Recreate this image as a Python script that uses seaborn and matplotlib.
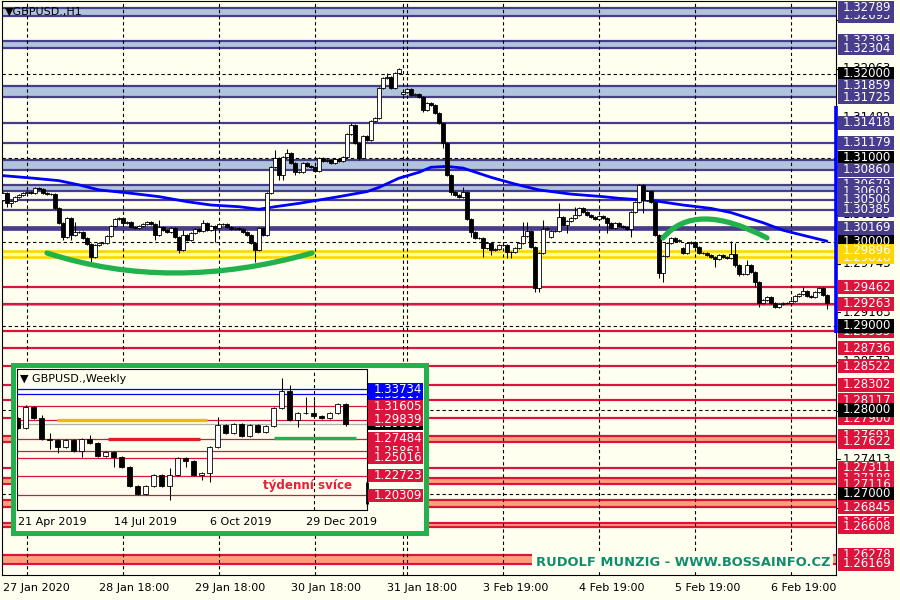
import numpy as np
import pandas as pd
import matplotlib
matplotlib.use("Agg")
import matplotlib.pyplot as plt
import seaborn as sns
from matplotlib.patches import Rectangle, PathPatch
from matplotlib.path import Path
from matplotlib import font_manager

# ---------------- data: GBPUSD H1 ----------------
H1_FIRST_OPEN = 1.3050
H1_CLOSE = [
    1.3058, 1.3046, 1.3049, 1.3054, 1.3056, 1.3058, 1.3060, 1.3058, 1.3064, 1.3063,
    1.3058, 1.3057, 1.3057, 1.3040, 1.3023, 1.3006, 1.3029, 1.3008, 1.3012, 1.3012,
    1.3005, 1.2998, 1.2982, 1.2996, 1.2999, 1.2999, 1.3007, 1.3019, 1.3027, 1.3029,
    1.3023, 1.3024, 1.3018, 1.3017, 1.3019, 1.3021, 1.3024, 1.3021, 1.3008, 1.3018,
    1.3014, 1.3012, 1.3017, 1.3006, 1.2990, 1.3008, 1.3002, 1.3011, 1.3015, 1.3013,
    1.3023, 1.3014, 1.3019, 1.3017, 1.3021, 1.3021, 1.3018, 1.3015, 1.3017, 1.3015,
    1.3012, 1.3008, 1.2999, 1.2990, 1.3017, 1.3008, 1.3058, 1.3089, 1.3100, 1.3080,
    1.3101, 1.3106, 1.3094, 1.3083, 1.3083, 1.3094, 1.3090, 1.3089, 1.3085, 1.3100,
    1.3096, 1.3098, 1.3094, 1.3099, 1.3096, 1.3101, 1.3129, 1.3139, 1.3118, 1.3100,
    1.3126, 1.3121, 1.3144, 1.3148, 1.3183, 1.3195, 1.3196, 1.3183, 1.3201, 1.3206,
    1.3179, 1.3182, 1.3175, 1.3176, 1.3173, 1.3157, 1.3165, 1.3163, 1.3154, 1.3142,
    1.3118, 1.3080, 1.3060, 1.3056, 1.3054, 1.3060, 1.3027, 1.3012, 1.3005, 1.3005,
    1.2993, 1.2999, 1.2990, 1.2992, 1.2996, 1.2996, 1.2988, 1.2988, 1.2993, 1.2999,
    1.3007, 1.3013, 1.2994, 1.2945, 1.2987, 1.3015, 1.3017, 1.3013, 1.3013, 1.3030,
    1.3020, 1.3025, 1.3029, 1.3032, 1.3040, 1.3036, 1.3032, 1.3030, 1.3027, 1.3031,
    1.3029, 1.3023, 1.3017, 1.3023, 1.3019, 1.3018, 1.3015, 1.3036, 1.3048, 1.3068,
    1.3050, 1.3061, 1.3048, 1.3008, 1.2963, 1.2983, 1.2999, 1.3005, 1.3001, 1.3002,
    1.2987, 1.2999, 1.3000, 1.2994, 1.2987, 1.2987, 1.2985, 1.2982, 1.2980, 1.2985,
    1.2982, 1.2981, 1.2986, 1.2973, 1.2962, 1.2962, 1.2973, 1.2964, 1.2952, 1.2927,
    1.2931, 1.2935, 1.2927, 1.2923, 1.2926, 1.2927, 1.2927, 1.2930, 1.2936, 1.2938,
    1.2942, 1.2936, 1.2935, 1.2940, 1.2945, 1.2937, 1.2927,
]
H1_OPEN_GAPS = {100: 1.3176, 137: 1.3006, 170: 1.2993}
H1_HIGH = {0: 1.3060, 16: 1.3030, 18: 1.3024, 29: 1.3030, 39: 1.3026, 45: 1.3014,
           50: 1.3026, 68: 1.3110, 71: 1.3111, 87: 1.3142, 96: 1.3201, 99: 1.3207,
           115: 1.3065, 130: 1.3024, 131: 1.3024, 135: 1.3026, 139: 1.3046,
           143: 1.3042, 159: 1.3069, 182: 1.3001, 183: 1.2999, 186: 1.2979,
           200: 1.2946, 204: 1.2946}
H1_LOW = {1: 1.3042, 2: 1.3042, 15: 1.3002, 17: 1.3002, 22: 1.2975, 38: 1.3002,
          44: 1.2987, 53: 1.3000, 63: 1.2976, 69: 1.3074, 70: 1.3074, 73: 1.3080,
          89: 1.3098, 105: 1.3155, 110: 1.3112, 112: 1.3056, 117: 1.3006,
          120: 1.2982, 122: 1.2985, 126: 1.2981, 127: 1.2981, 133: 1.2940,
          134: 1.2940, 141: 1.3011, 151: 1.3011, 157: 1.3006, 160: 1.3035,
          164: 1.2957, 165: 1.2952, 178: 1.2970, 183: 1.2970, 184: 1.2960,
          188: 1.2946, 189: 1.2923, 193: 1.2921, 206: 1.2920}
H1_TICK_POS = [0, 24, 48, 72, 96, 120, 144, 168, 192]
H1_TICK_LABELS = ["27 Jan 2020", "28 Jan 18:00", "29 Jan 18:00", "30 Jan 18:00",
                  "31 Jan 18:00", "3 Feb 19:00", "4 Feb 19:00", "5 Feb 19:00",
                  "6 Feb 19:00"]
H1_DAY_SEPARATORS = [6, 30, 54, 78, 100, 101, 125, 149, 173, 197]

MA_IDX = [0, 7.5, 14, 19, 24, 32, 39, 46, 52, 59, 64, 68, 74, 79, 84, 91, 94, 99,
          104, 107, 111, 115, 122, 128, 134, 142, 150, 154, 163, 170, 177, 182,
          190, 195, 200, 206]
MA_VAL = [1.3079, 1.3076, 1.3073, 1.3068, 1.3062, 1.3058, 1.3054, 1.3048, 1.3044,
          1.3042, 1.3039, 1.3042, 1.3046, 1.3050, 1.3054, 1.3060, 1.3065, 1.3076,
          1.3083, 1.3089, 1.3090, 1.3088, 1.3077, 1.3069, 1.3062, 1.3057, 1.3054,
          1.3052, 1.3049, 1.3044, 1.3040, 1.3035, 1.3023, 1.3014, 1.3008, 1.3001]

SLATE_LEVELS = [1.32789, 1.32695, 1.32393, 1.32304, 1.31859, 1.31725, 1.31418,
                1.31179, 1.30975, 1.30860, 1.30679, 1.30603, 1.30500, 1.30385]
SLATE_BANDS = [(1.32695, 1.32789), (1.32304, 1.32393), (1.31725, 1.31859),
               (1.30860, 1.30975), (1.30603, 1.30679)]
SLATE_THICK = 1.30169
ROUND_LEVELS = [1.32, 1.31, 1.30, 1.29, 1.28, 1.27]
GOLD_BAND = (1.29818, 1.29896)
RED_LEVELS = [1.29462, 1.29263, 1.28935, 1.28736, 1.28522, 1.28302, 1.28117,
              1.27900, 1.27691, 1.27622, 1.27311, 1.27188, 1.27116, 1.26929,
              1.26845, 1.26655, 1.26608, 1.26278, 1.26169]
RED_BANDS = [(1.27622, 1.27691), (1.27116, 1.27188), (1.26845, 1.26929),
             (1.26608, 1.26655), (1.26169, 1.26278)]
BID_PRICE = 1.29252
DAY_RANGE = (1.28917, 1.31619)
AXIS_TICKS = ["1.32643", "1.32063", "1.31482", "1.30903", "1.30323", "1.29743",
              "1.29163", "1.28573", "1.27993", "1.27413", "1.26833"]
BOX_TEXT = ["1.32695", "1.32789", "1.32393", "1.32304", "1.32000", "1.31859",
            "1.31725", "1.31418", "1.31179", "1.30975", "1.31000", "1.30860",
            "1.30679", "1.30603", "1.30500", "1.30385", "1.30169", "1.30000",
            "1.29818", "1.29896", "1.29462", "1.29263", "1.28935", "1.29000",
            "1.28736", "1.28522", "1.28302", "1.28117", "1.27900", "1.28000",
            "1.27691", "1.27622", "1.27311", "1.27188", "1.27116", "1.26929",
            "1.27000", "1.26845", "1.26655", "1.26608", "1.26278", "1.26169"]
BOX_KIND = ["s", "s", "s", "s", "k", "s", "s", "s", "s", "s", "k", "s", "s", "s",
            "s", "s", "s", "k", "g", "g", "r", "r", "r", "k", "r", "r", "r", "r",
            "r", "k", "r", "r", "r", "r", "r", "r", "k", "r", "r", "r", "r", "r"]
ARC_SMILE = ([11, 41.9, 77.25], [1.29869, 1.29393, 1.29869])
ARC_FROWN = ([165, 173, 191], [1.30048, 1.30500, 1.30048])

# ---------------- data: GBPUSD Weekly (inset) ----------------
W_FIRST_OPEN = 1.3009
W_CLOSE = [1.2882, 1.3149, 1.3009, 1.2742, 1.2730, 1.2641, 1.2730, 1.2590, 1.2742,
           1.2691, 1.2526, 1.2577, 1.2514, 1.2387, 1.2145, 1.2044, 1.2145, 1.2285,
           1.2145, 1.2285, 1.2501, 1.2463, 1.2285, 1.2310, 1.2641, 1.2920, 1.2818,
           1.2933, 1.2780, 1.2920, 1.2831, 1.2907, 1.3136, 1.3352, 1.2984, 1.3072,
           1.3072, 1.3034, 1.3009, 1.3072, 1.3187, 1.2933]
W_HIGH = {1: 1.3174, 3: 1.3047, 4: 1.2818, 9: 1.2793, 19: 1.2374, 25: 1.3022,
          33: 1.3517, 34: 1.3428, 36: 1.3276, 37: 1.3238, 40: 1.3199}
W_LOW = {4: 1.2615, 5: 1.2564, 8: 1.2514, 12: 1.2387, 19: 1.1968, 21: 1.2387,
         23: 1.2222, 24: 1.2196, 28: 1.2768, 35: 1.2895, 41: 1.2907}
W_TICK_POS = [0, 12, 24, 36]
W_TICK_LABELS = ["21 Apr 2019", "14 Jul 2019", "6 Oct 2019", "29 Dec 2019"]
W_SEPARATOR = 37
W_BLUE_LEVELS = [1.33734, 1.33117]
W_RED_LEVELS = [1.31605, 1.29839, 1.27484, 1.25861, 1.25016, 1.22723, 1.20309]
W_BID = 1.2933
W_RANGE = (1.1917, 1.2196)
W_SEGMENTS = [(4.9, 23.7, 1.29839, "#F5B800"), (11.3, 22.8, 1.2748, "#E02020"),
              (32.0, 42.3, 1.2750, "#22B14C")]
W_BOX_TEXT = ["1.33117", "1.33734", "1.31605", "1.29330", "1.29839", "1.27484",
              "1.25861", "1.25016", "1.22723", "1.20309"]
W_BOX_KIND = ["b", "b", "r", "k", "r", "r", "r", "r", "r", "r"]

# ---------------- style ----------------
sns.set_style("white")
plt.rcParams["font.family"] = ["DejaVu Sans"]
IVORY = "#FFFFF0"
SLATE = "#483D8B"
CRIMSON = "#DC143C"
GREEN = "#22B14C"
BOX_COL = {"s": SLATE, "r": CRIMSON, "k": "#000000", "g": "#FFD700", "b": "#0000FF"}
_avail = {f.name for f in font_manager.fontManager.ttflist}
NARROW = [f for f in ["Liberation Sans Narrow", "DejaVu Sans Condensed"] if f in _avail][:1] + ["DejaVu Sans"]

W_PX, H_PX = 900, 600
fig = plt.figure(figsize=(9, 6), dpi=100, facecolor=IVORY)


def pax(x0, y0, x1, y1, **kw):
    return fig.add_axes([x0 / W_PX, 1 - y1 / H_PX, (x1 - x0) / W_PX, (y1 - y0) / H_PX], **kw)


def draw_candles(a, first_open, closes, highs, lows, gaps, width, wick, minh, lw_edge, lw_wick):
    c = np.asarray(closes, float)
    o = np.r_[first_open, c[:-1]]
    for k, v in gaps.items():
        o[k] = v
    hi = np.maximum(o, c) + wick
    lo = np.minimum(o, c) - wick
    for k, v in highs.items():
        hi[k] = v
    for k, v in lows.items():
        lo[k] = v
    x = np.arange(len(c))
    a.vlines(x, lo, hi, color="black", lw=lw_wick, zorder=3)
    up = c >= o
    a.bar(x, np.maximum(np.abs(c - o), minh), bottom=np.minimum(o, c), width=width,
          color=np.where(up, "white", "black"), edgecolor="black", linewidth=lw_edge, zorder=4)


def draw_boxes(lax, x0, w, tx, texts, kinds, bh, fs):
    for z, (t, k) in enumerate(zip(texts, kinds)):
        v = float(t)
        lax.add_patch(Rectangle((x0, v - bh / 2), w, bh, fc=BOX_COL[k], ec="none",
                                zorder=10 + 2 * z, clip_on=False))
        lax.text(tx, v, t, color="white", fontsize=fs, ha="left", va="center",
                 zorder=11 + 2 * z, clip_on=False)


# ---------------- main H1 chart ----------------
Y0, Y1 = 1.260357, 1.328690
ax = pax(2, 1, 836, 575, facecolor=IVORY)
ax.set_xlim(-0.25, 208.25)
ax.set_ylim(Y0, Y1)

for lo, hi in SLATE_BANDS:
    ax.axhspan(lo, hi, color="#B0C4DE", lw=0, zorder=1)
for lo, hi in RED_BANDS:
    ax.axhspan(lo, hi, color="#FFA07A", lw=0, zorder=1)
ax.axhspan(*GOLD_BAND, color="#FFFF9E", lw=0, zorder=1)
for v in SLATE_LEVELS:
    ax.axhline(v, color=SLATE, lw=1.6, zorder=1.5)
ax.axhline(SLATE_THICK, color=SLATE, lw=3.4, zorder=1.5)
for v in GOLD_BAND:
    ax.axhline(v, color="#FFD700", lw=1.9, zorder=1.5)
for v in RED_LEVELS:
    ax.axhline(v, color=CRIMSON, lw=1.6, zorder=1.5)
ax.axhline(BID_PRICE, color="#A0A0A0", lw=0.8, zorder=1.5)
for v in ROUND_LEVELS:
    ax.axhline(v, color="black", lw=0.8, ls=(0, (3, 2.5)), zorder=1.6)
for s in H1_DAY_SEPARATORS:
    ax.axvline(s, color="black", lw=0.8, ls=(0, (3, 2.5)), zorder=1.6)

ma_df = pd.DataFrame({"bar": MA_IDX, "ma": MA_VAL})
sns.lineplot(data=ma_df, x="bar", y="ma", ax=ax, color="#0000FF", lw=2.0,
             zorder=2.5, legend=False)

draw_candles(ax, H1_FIRST_OPEN, H1_CLOSE, H1_HIGH, H1_LOW, H1_OPEN_GAPS,
             width=0.8, wick=0.00012, minh=0.00003, lw_edge=0.6, lw_wick=0.75)

for xs, ys in (ARC_SMILE, ARC_FROWN):
    p = Path(list(zip(xs, ys)), [Path.MOVETO, Path.CURVE3, Path.CURVE3])
    ax.add_patch(PathPatch(p, fill=False, ec=GREEN, lw=3.8, capstyle="round", zorder=6))

ax.text(0.0036, 0.981, "▼GBPUSD.,H1", transform=ax.transAxes, fontsize=8,
        ha="left", va="center", color="black", zorder=8)

wm = ax.text(206.8, 1.26185, "RUDOLF MUNZIG - WWW.BOSSAINFO.CZ", ha="right",
             va="center", color="#118C6E", fontweight="bold", fontsize=12.5,
             family=NARROW, zorder=7,
             bbox=dict(boxstyle="square,pad=0.25", fc=IVORY, ec="none"))

ax.set_xticks(H1_TICK_POS)
ax.set_xticklabels(H1_TICK_LABELS, ha="left", fontsize=8)
ax.set_yticks([])
ax.tick_params(axis="x", length=4, width=0.8, direction="out", pad=2, colors="black")
ax.set_xlabel("")
ax.set_ylabel("")
for s in ax.spines.values():
    s.set_color("black")
    s.set_linewidth(0.8)

# right price scale
lab = pax(836, 1, 900, 575)
lab.set_xlim(836, 900)
lab.set_ylim(Y0, Y1)
lab.set_facecolor("none")
lab.axis("off")
bh = 14 * (Y1 - Y0) / 574
for t in AXIS_TICKS:
    lab.text(843, float(t), t, color="black", fontsize=8.5, ha="left", va="center", zorder=2)
    lab.plot([836, 840], [float(t)] * 2, color="black", lw=0.8, zorder=2, clip_on=False)
lab.vlines(835.5, *DAY_RANGE, color="#0000FF", lw=2.6, zorder=3, clip_on=False)
draw_boxes(lab, 838, 56, 843, BOX_TEXT, BOX_KIND, bh, 8.5)

# ---------------- inset weekly chart ----------------
frame = pax(12.5, 364.5, 425.5, 532.5, facecolor=IVORY)
frame.set_xticks([])
frame.set_yticks([])
for s in frame.spines.values():
    s.set_color(GREEN)
    s.set_linewidth(3.6)

WY0, WY1 = 1.18405, 1.36312
ins = pax(16.7, 369, 366.7, 510, facecolor=IVORY)
ins.set_xlim(-0.125, 43.6)
ins.set_ylim(WY0, WY1)
for v in W_BLUE_LEVELS:
    ins.axhline(v, color="#0000FF", lw=0.9, zorder=1.5)
for v in W_RED_LEVELS:
    ins.axhline(v, color=CRIMSON, lw=0.9, zorder=1.5)
ins.axhline(W_BID, color="#B0B0B0", lw=0.9, zorder=1.5)
ins.axvline(W_SEPARATOR, color="black", lw=0.8, ls=(0, (3, 2.5)), zorder=1.6)
for x0, x1, y, col in W_SEGMENTS:
    ins.plot([x0, x1], [y, y], color=col, lw=2.4, solid_capstyle="butt", zorder=2)
draw_candles(ins, W_FIRST_OPEN, W_CLOSE, W_HIGH, W_LOW, {}, width=0.65,
             wick=0.0015, minh=0.0004, lw_edge=0.6, lw_wick=0.75)
ins.text(0.0094, 0.929, "▼ GBPUSD.,Weekly", transform=ins.transAxes, fontsize=8,
         ha="left", va="center", color="black", zorder=8)
tw = ins.text(36.2, 1.2158, "týdenní svíce", ha="center", va="center",
              color="#E3213B", fontweight="bold", fontsize=10, family=NARROW, zorder=8)
ins.set_xticks(W_TICK_POS)
ins.set_xticklabels(W_TICK_LABELS, ha="left", fontsize=8)
ins.set_yticks([])
ins.tick_params(axis="x", length=3, width=0.8, direction="out", pad=2, colors="black")
for s in ins.spines.values():
    s.set_color("black")
    s.set_linewidth(0.8)

ins_lab = pax(366.7, 369, 423, 510)
ins_lab.set_xlim(366.7, 423)
ins_lab.set_ylim(WY0, WY1)
ins_lab.set_facecolor("none")
ins_lab.axis("off")
ins_lab.vlines(367.3, *W_RANGE, color="black", lw=2.0, zorder=3, clip_on=False)
wbh = 13 * (WY1 - WY0) / 141
draw_boxes(ins_lab, 368, 55, 374, W_BOX_TEXT, W_BOX_KIND, wbh, 8.5)

# fit condensed texts to their measured widths
fig.canvas.draw()
r = fig.canvas.get_renderer()
for t, target in ((wm, 293.0), (tw, 89.0)):
    w = t.get_window_extent(r).width
    if w > 0:
        t.set_fontsize(t.get_fontsize() * target / w)

fig.savefig("out.png", dpi=100, facecolor=IVORY)
